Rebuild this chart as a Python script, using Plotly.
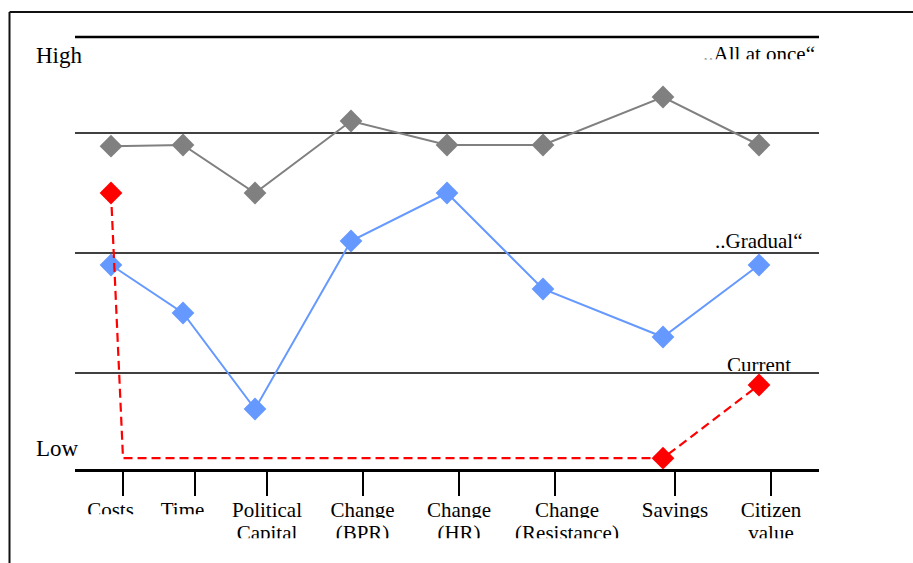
import plotly.graph_objects as go

# ---- data -------------------------------------------------------------
categories = [
    ["Costs"], ["Time"], ["Political", "Capital"], ["Change", "(BPR)"],
    ["Change", "(HR)"], ["Change", "(Resistance)"], ["Savings"], ["Citizen", "value"],
]
all_at_once = [26.9, 27, 23, 29, 27, 27, 31, 27]
gradual = [17, 13, 5, 19, 23, 15, 11, 17]
current_categories = ["Costs", "Savings", "Citizen value"]
current = [23, 0.9, 7]
scenario_levels = [28, 18, 8]          # "All at once", "Gradual", "Current"
scale_labels = ["High", "Low"]

# ---- layout helpers ---------------------------------------------------
W, H = 913, 563
SERIF = "Liberation Serif"
slots = [2, 5, 8, 12, 16, 20, 25, 29]      # tick positions along the axis
marker_shift = -0.5                         # markers sit a little left of ticks
label_xshift = [-12.5, -12.5, 0, -0.5, 0, 12, 0, 0]
X_RANGE, Y_RANGE = [0, 31], [0, 36]
PLOT_L, PLOT_R, PLOT_T, PLOT_B = 75, 819, 37, 469
UNIT_X = (PLOT_R - PLOT_L) / (X_RANGE[1] - X_RANGE[0])

names = [" ".join(c) for c in categories]
xpos = {n: s for n, s in zip(names, slots)}
mx = [s + marker_shift for s in slots]


def fx(p):
    return p / W


def fy(p):
    return 1 - p / H


fig = go.Figure()

fig.add_trace(go.Scatter(
    x=mx, y=all_at_once, mode="lines+markers",
    line=dict(color="#808080", width=2),
    marker=dict(symbol="diamond", size=17.5, color="#808080"),
    cliponaxis=False, showlegend=False,
))
fig.add_trace(go.Scatter(
    x=mx, y=gradual, mode="lines+markers",
    line=dict(color="#6699FF", width=2),
    marker=dict(symbol="diamond", size=17.5, color="#6699FF"),
    cliponaxis=False, showlegend=False,
))

# current state: drops from Costs to the low level, runs to Savings, rises to Citizen value
cur_x = [xpos[c] + marker_shift for c in current_categories]
path_x = [cur_x[0], xpos[current_categories[0]], cur_x[1], cur_x[2]]
path_y = [current[0], current[1], current[1], current[2]]
fig.add_trace(go.Scatter(
    x=path_x, y=path_y, mode="lines",
    line=dict(color="#FF0000", width=2.2, dash="9px,5px"),
    cliponaxis=False, showlegend=False,
))
fig.add_trace(go.Scatter(
    x=cur_x, y=current, mode="markers",
    marker=dict(symbol="diamond", size=17.5, color="#FF0000"),
    cliponaxis=False, showlegend=False,
))

# ---- text boxes with a cropped lower edge -----------------------------
# each group lives in its own hidden pixel-space subplot; the subplot's
# bottom edge trims the glyphs like a too-small text frame would
text_font = dict(family=SERIF, size=21, color="black")
groups = []   # (top_px, bottom_px, [(x_px, y_px, text, position)])
groups.append((40, 59.3, [(815, 55.5, "..All at once“", "middle left")]))
groups.append((352, 371, [(759, 367, "Current", "middle center")]))

line1_cut = [514.3, 514.3, 518, 518, 518, 518, 518, 518]
line_centers = [511.5, 535]
cut_a, cut_b, cut_c = [], [], []
for lines, s, sh, cut in zip(categories, slots, label_xshift, line1_cut):
    cx = PLOT_L + s * UNIT_X + sh
    (cut_a if cut < 516 else cut_b).append((cx, line_centers[0], lines[0], "middle center"))
    if len(lines) > 1:
        cut_c.append((cx, line_centers[1], lines[1], "middle center"))
groups.append((494, 514.3, cut_a))
groups.append((494, 518, cut_b))
groups.append((521, 538.3, cut_c))

extra_axes = {}
for i, (top, bottom, items) in enumerate(groups, start=2):
    fig.add_trace(go.Scatter(
        x=[it[0] for it in items], y=[it[1] for it in items],
        text=[it[2] for it in items], textposition=[it[3] for it in items],
        mode="text", textfont=text_font, cliponaxis=True, showlegend=False,
        hoverinfo="skip", xaxis=f"x{i}", yaxis=f"y{i}",
    ))
    extra_axes[f"xaxis{i}"] = dict(domain=[0, 1], range=[0, W], visible=False,
                                   anchor=f"y{i}", fixedrange=True)
    extra_axes[f"yaxis{i}"] = dict(domain=[fy(bottom), fy(top)], range=[bottom, top],
                                   visible=False, anchor=f"x{i}", fixedrange=True)

# ---- reference lines --------------------------------------------------
shapes = []
for lv in scenario_levels:
    shapes.append(dict(type="line", xref="x", yref="y", x0=X_RANGE[0], x1=X_RANGE[1],
                       y0=lv, y1=lv, line=dict(color="black", width=1.4), layer="below"))
shapes.append(dict(type="line", xref="x", yref="paper", x0=X_RANGE[0], x1=X_RANGE[1],
                   y0=fy(PLOT_T), y1=fy(PLOT_T), line=dict(color="black", width=2.6),
                   layer="below"))
# outer frame
shapes.append(dict(type="line", xref="paper", yref="paper", x0=fx(9.5), x1=fx(9.5),
                   y0=0, y1=fy(12), line=dict(color="#111", width=2)))
shapes.append(dict(type="line", xref="paper", yref="paper", x0=fx(9.5), x1=1,
                   y0=fy(12), y1=fy(12), line=dict(color="#111", width=2)))

# ---- free-standing labels ---------------------------------------------
big = dict(family=SERIF, size=23, color="black")
ann = [
    dict(text=scale_labels[0], xref="paper", yref="paper", x=fx(35), y=fy(55.5),
         xanchor="left", yanchor="middle", showarrow=False, font=big, borderpad=0),
    dict(text=scale_labels[1], xref="paper", yref="paper", x=fx(35), y=fy(448.5),
         xanchor="left", yanchor="middle", showarrow=False, font=big, borderpad=0),
    dict(text="..Gradual“", xref="paper", yref="paper", x=fx(803), y=fy(241),
         xanchor="right", yanchor="middle", showarrow=False, font=text_font, borderpad=0),
]

fig.update_layout(
    width=W, height=H,
    margin=dict(l=0, r=0, t=0, b=0),
    paper_bgcolor="white", plot_bgcolor="rgba(0,0,0,0)",
    shapes=shapes, annotations=ann,
    xaxis=dict(domain=[fx(PLOT_L), fx(PLOT_R)], range=X_RANGE, showgrid=False,
               zeroline=False, showline=True, linewidth=3, linecolor="black",
               tickmode="array", tickvals=slots, ticks="outside", ticklen=24,
               tickwidth=2, tickcolor="black", showticklabels=False, fixedrange=True),
    yaxis=dict(domain=[fy(PLOT_B), fy(PLOT_T)], range=Y_RANGE, showgrid=False,
               zeroline=False, showline=False, showticklabels=False, ticks="",
               fixedrange=True),
    **extra_axes,
)

fig.write_html("out.html")
